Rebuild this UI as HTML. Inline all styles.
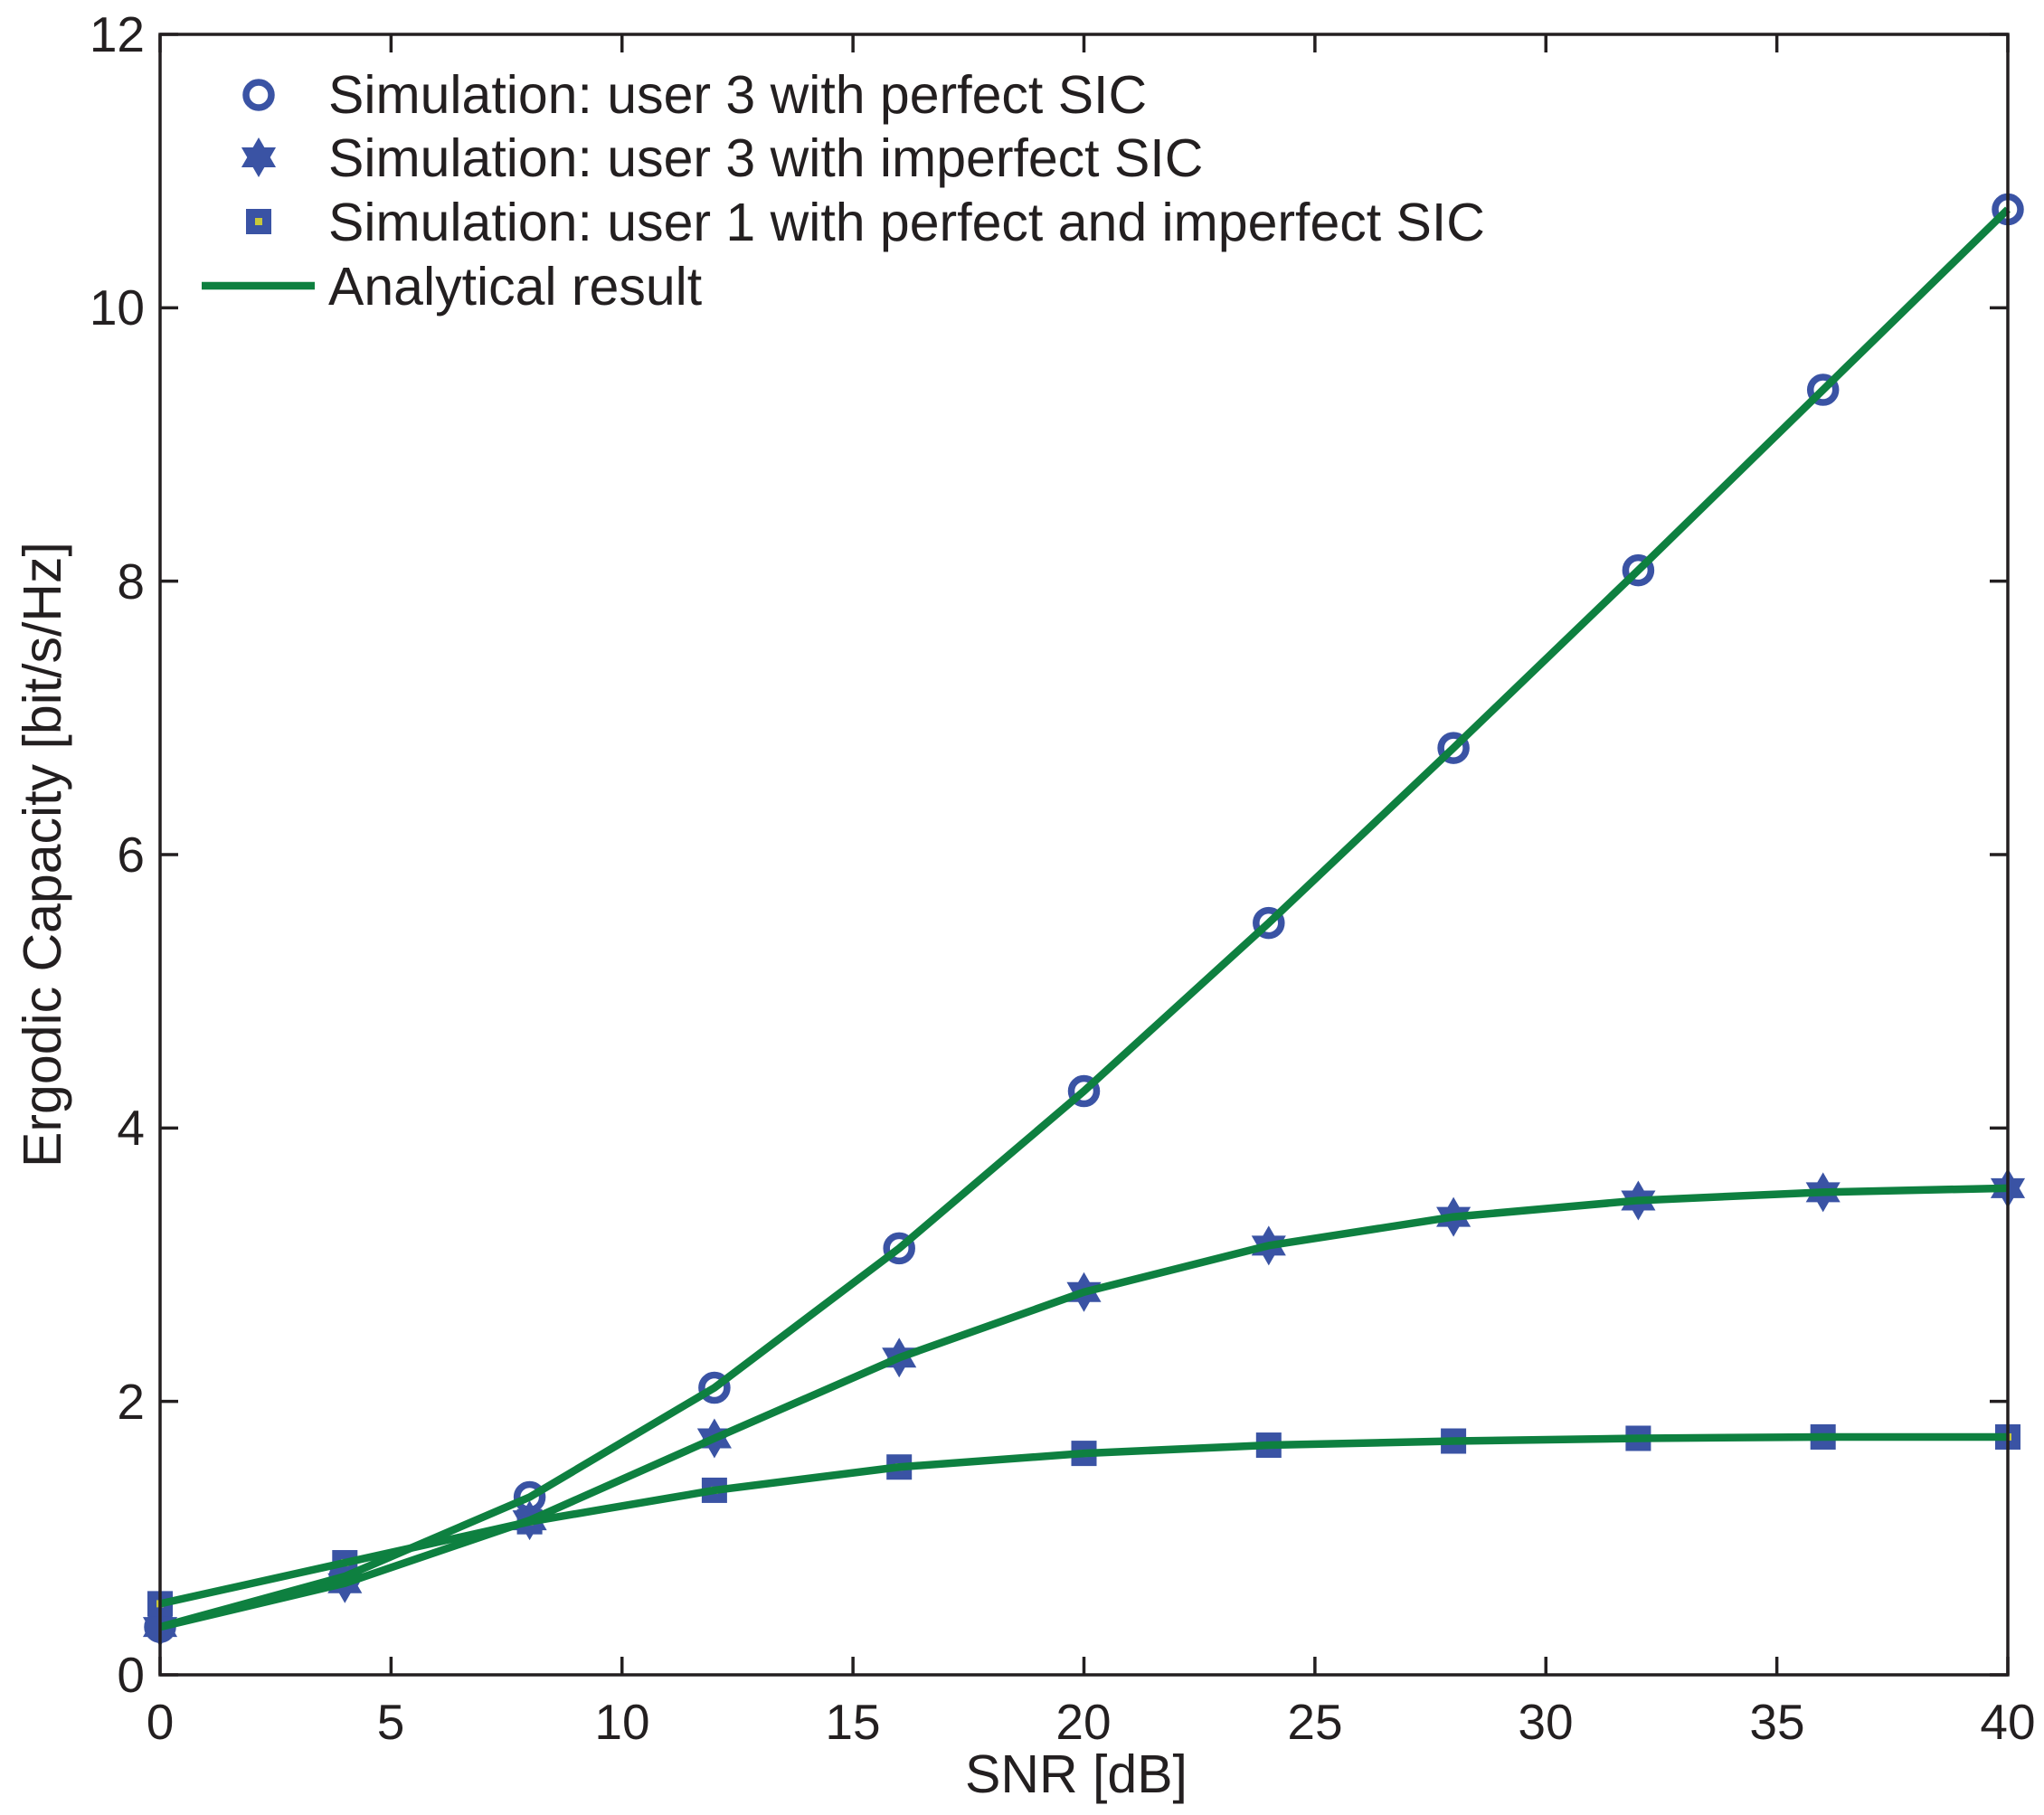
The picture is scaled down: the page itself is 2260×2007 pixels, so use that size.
<!DOCTYPE html>
<html><head><meta charset="utf-8"><style>
html,body{margin:0;padding:0;background:#fff}
svg{display:block}
text{font-family:"Liberation Sans",sans-serif;fill:#231f20}
</style></head><body>
<svg id="s" width="2260" height="2007" viewBox="0 0 2260 2007" xmlns="http://www.w3.org/2000/svg">
<rect width="2260" height="2007" fill="#fff"/>
<g id="plot"></g>
<rect x="177" y="38" width="2043" height="1814" fill="none" stroke="#231f20" stroke-width="3.5"/>
<g id="ticks" stroke="#231f20" stroke-width="3.5"></g>
<g font-size="55" text-anchor="middle">
<text x="177" y="1923">0</text><text x="432" y="1923">5</text><text x="688" y="1923">10</text><text x="943" y="1923">15</text><text x="1198" y="1923">20</text><text x="1454" y="1923">25</text><text x="1709" y="1923">30</text><text x="1965" y="1923">35</text><text x="2220" y="1923">40</text>
</g>
<g font-size="55" text-anchor="end">
<text x="160" y="1871">0</text><text x="160" y="1569">2</text><text x="160" y="1266">4</text><text x="160" y="964">6</text><text x="160" y="662">8</text><text x="160" y="359">10</text><text x="160" y="57">12</text>
</g>
<text x="1190" y="1982" font-size="59" text-anchor="middle">SNR [dB]</text>
<text transform="translate(67,945) rotate(-90)" font-size="59" text-anchor="middle">Ergodic Capacity [bit/s/Hz]</text>
<g font-size="59">
<text x="363" y="125">Simulation: user 3 with perfect SIC</text>
<text x="363" y="195">Simulation: user 3 with imperfect SIC</text>
<text x="363" y="266">Simulation: user 1 with perfect and imperfect SIC</text>
<text x="363" y="337">Analytical result</text>
</g>
<g id="leg"></g>
</svg>
<script>
var L=177,R=2220,T=38,B=1852;
function X(v){return L+(R-L)*v/40}
function Y(v){return B-(B-T)*v/12}
var xs=[0,4,8,12,16,20,24,28,32,36,40];
var c=[0.35,0.72,1.3,2.1,3.12,4.27,5.5,6.78,8.08,9.4,10.72];
var st=[0.35,0.67,1.13,1.73,2.32,2.8,3.14,3.35,3.47,3.53,3.56];
var sq=[0.52,0.82,1.12,1.35,1.52,1.62,1.68,1.71,1.73,1.74,1.74];
var blue="#3a53a4",green="#0e8040";
function circle(x,y){return '<circle cx="'+x+'" cy="'+y+'" r="14" fill="none" stroke="'+blue+'" stroke-width="7.5"/>'}
function square(x,y){return '<rect x="'+(x-14)+'" y="'+(y-14)+'" width="28" height="28" fill="'+blue+'"/><rect x="'+(x-4)+'" y="'+(y-4)+'" width="8" height="8" fill="#c8c83a"/>'}
function star(x,y){var r=22,p1=[],p2=[];for(var i=0;i<3;i++){var a=-Math.PI/2+i*2*Math.PI/3;p1.push((x+r*Math.cos(a))+','+(y+r*Math.sin(a)));var b=Math.PI/2+i*2*Math.PI/3;p2.push((x+r*Math.cos(b))+','+(y+r*Math.sin(b)));}
return '<polygon points="'+p1.join(' ')+'" fill="'+blue+'"/><polygon points="'+p2.join(' ')+'" fill="'+blue+'"/>'}
var h='';
[[c,circle],[st,star],[sq,square]].forEach(function(s){s[0].forEach(function(v,i){h+=s[1](X(xs[i]),Y(v))})});
[c,st,sq].forEach(function(s){h+='<polyline fill="none" stroke="'+green+'" stroke-width="8.5" stroke-linejoin="round" points="'+s.map(function(v,i){return X(xs[i])+','+Y(v)}).join(' ')+'"/>'});
document.getElementById('plot').innerHTML=h;
var t='';
for(var i=0;i<=8;i++){var x=X(i*5);t+='<line x1="'+x+'" y1="'+B+'" x2="'+x+'" y2="'+(B-20)+'"/><line x1="'+x+'" y1="'+T+'" x2="'+x+'" y2="'+(T+20)+'"/>'}
for(var j=0;j<=6;j++){var y=Y(j*2);t+='<line x1="'+L+'" y1="'+y+'" x2="'+(L+20)+'" y2="'+y+'"/><line x1="'+R+'" y1="'+y+'" x2="'+(R-20)+'" y2="'+y+'"/>'}
document.getElementById('ticks').innerHTML=t;
document.getElementById('leg').innerHTML=circle(286,105)+star(286,174)+square(286,245)+'<line x1="223" y1="316" x2="348" y2="316" stroke="'+green+'" stroke-width="8.5"/>';
</script>
</body></html>
